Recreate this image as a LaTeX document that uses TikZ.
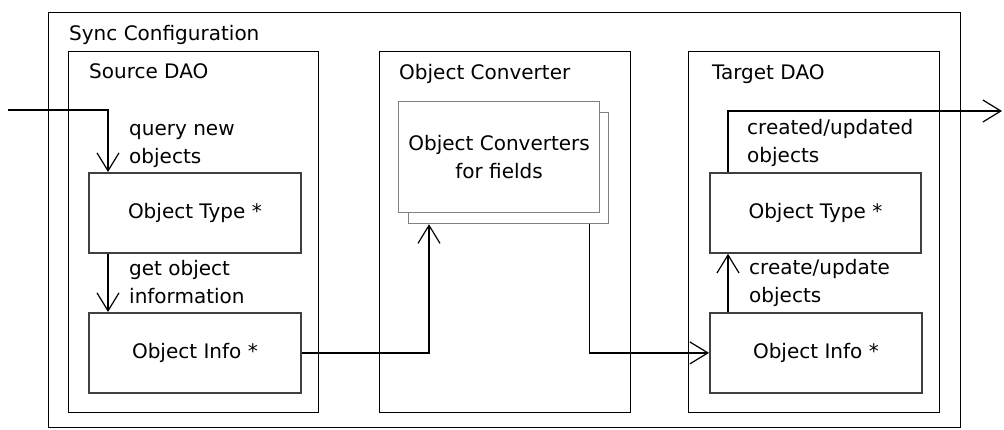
\documentclass[tikz,border=0pt]{standalone}
\usepackage{fontspec}
\setmainfont{DejaVu Sans}
\usetikzlibrary{arrows.meta,calc}
\begin{document}
\begin{tikzpicture}[x=1pt,y=-1pt,
  font=\fontsize{20}{28}\selectfont,
  container/.style={draw=black,line width=1.3pt,anchor=north west,inner sep=0pt},
  inbox/.style={draw=black!75,line width=1.8pt,anchor=north west,inner sep=0pt},
  convbox/.style={draw=black!50,line width=1.2pt,fill=white,anchor=north west,inner sep=0pt,align=center},
  title/.style={anchor=base west,inner sep=0pt},
  lbl/.style={anchor=north west,align=left,inner sep=0pt},
  arr/.style={draw=black,line width=1.2pt,-{Straight Barb[length=18pt,width=22pt]}}
]
\useasboundingbox (0,0) rectangle (1004,429);
% containers
\node[container,minimum width=912pt,minimum height=415pt] (sync) at (48,12) {};
\node[container,minimum width=250pt,minimum height=361pt] (src) at (68,51) {};
\node[container,minimum width=251pt,minimum height=361pt] (conv) at (379,51) {};
\node[container,minimum width=251pt,minimum height=361pt] (tgt) at (688,51) {};
% titles
\node[title] (syncT) at (69,40) {Sync Configuration};
\node[title] (srcT) at (89,78) {Source DAO};
\node[title] (convT) at (399,79) {Object Converter};
\node[title] (tgtT) at (712,79) {Target DAO};
% inner boxes
\node[inbox,minimum width=212pt,minimum height=80pt] (srcType) at (88,172) {Object Type *};
\node[inbox,minimum width=212pt,minimum height=80pt] (srcInfo) at (88,312) {Object Info *};
\node[inbox,minimum width=211pt,minimum height=80pt] (tgtType) at (709,172) {Object Type *};
\node[inbox,minimum width=212pt,minimum height=80pt] (tgtInfo) at (709,312) {Object Info *};
\node[convbox,minimum width=200pt,minimum height=111pt] (convBack) at (408,112) {};
\node[convbox,minimum width=201pt,minimum height=111pt] (convFront) at (398,101) {Object Converters\\for fields};
% labels
\node[lbl] (lq) at (129,115.4) {\strut query new\\\strut objects};
\node[lbl] (lg) at (129,255.4) {\strut get object\\\strut information};
\node[lbl] (lc) at (749,254.4) {\strut create/update\\\strut objects};
\node[lbl] (lo) at (747,114.4) {\strut created/updated\\\strut objects};
% connectors
\coordinate (in) at (8,110);
\coordinate (out) at (1002,111);
\draw[arr] (in) -| ($(srcType.north west)+(20,0)$);
\draw[arr] ($(srcType.south west)+(20,0)$) -- ($(srcInfo.north west)+(20,0)$);
\draw[arr] (srcInfo.east) -| ($(convBack.south west)+(21,0)$);
\draw[arr] ($(convBack.south east)+(-20,0)$) |- (tgtInfo.west);
\draw[arr] ($(tgtInfo.north west)+(19,0)$) -- ($(tgtType.south west)+(19,0)$);
\draw[arr] ($(tgtType.north west)+(19,0)$) |- (out);
\end{tikzpicture}
\end{document}
